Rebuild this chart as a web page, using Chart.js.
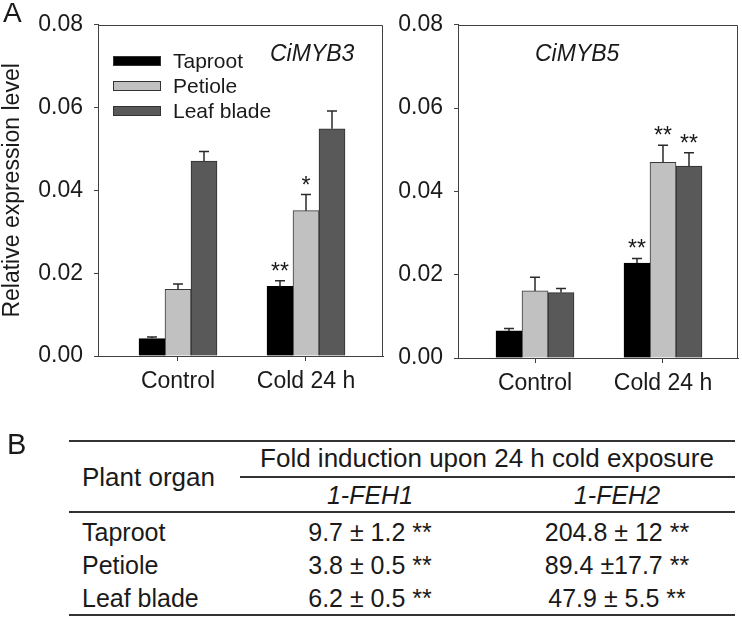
<!DOCTYPE html>
<html><head><meta charset="utf-8">
<script src="https://cdn.jsdelivr.net/npm/chart.js@4.4.0/dist/chart.umd.min.js"></script>
<style>
body{margin:0;width:742px;height:618px;position:relative;background:#fff;font-family:"Liberation Sans",Arial,sans-serif;color:#1a1a1a;overflow:hidden}
.t{position:absolute;white-space:nowrap;height:30px;line-height:30px}
.c{text-align:center;width:600px}
.ln{position:absolute;height:2px;background:#333}
.box{position:absolute;box-sizing:border-box;border:1px solid #333;width:48px;height:10px}
canvas{position:absolute}
</style></head><body>
<canvas id="c1" width="390" height="400" style="left:0;top:0"></canvas>
<canvas id="c2" width="352" height="400" style="left:390px;top:0"></canvas>
<div id="ov"></div>
<script>
// ---- data ----
const categories = ['Control', 'Cold 24 h'];
const seriesNames = ['Taproot', 'Petiole', 'Leaf blade'];
const yTickValues = [0, 0.02, 0.04, 0.06, 0.08];

const myb3Taproot = [0.0042, 0.0168];
const myb3Petiole = [0.0161, 0.0351];
const myb3Leaf    = [0.0471, 0.0549];
const myb3TaprootErr = [0.0004, 0.0014];
const myb3PetioleErr = [0.0013, 0.0039];
const myb3LeafErr    = [0.0023, 0.0043];
const myb3TaprootSig = ['', '**'];
const myb3PetioleSig = ['', '*'];
const myb3LeafSig    = ['', ''];

const myb5Taproot = [0.0065, 0.0228];
const myb5Petiole = [0.0161, 0.0470];
const myb5Leaf    = [0.0157, 0.0461];
const myb5TaprootErr = [0.0006, 0.0011];
const myb5PetioleErr = [0.0033, 0.0041];
const myb5LeafErr    = [0.0010, 0.0032];
const myb5TaprootSig = ['', '**'];
const myb5PetioleSig = ['', '**'];
const myb5LeafSig    = ['', '**'];

const tableOrgans = ['Taproot', 'Petiole', 'Leaf blade'];
const feh1Values = ['9.7 ± 1.2 **', '3.8 ± 0.5 **', '6.2 ± 0.5 **'];
const feh2Values = ['204.8 ± 12 **', '89.4 ±17.7 **', '47.9 ± 5.5 **'];

// ---- styles ----
const FAM = '"Liberation Sans", Arial, sans-serif';
const seriesFill = ['#000000', '#c1c1c1', '#595959'];
const seriesBorder = ['#000000', '#3a3a3a', '#2e2e2e'];
const AX = '#404040';

const errPlugin = {
  id: 'err',
  beforeDatasetsDraw(chart) {
    const {ctx, chartArea: a} = chart;
    ctx.save();
    ctx.strokeStyle = AX; ctx.lineWidth = 1;
    ctx.beginPath();
    const t = Math.round(a.top) + 0.5, r = Math.round(a.right) - 0.5;
    ctx.moveTo(a.left, t); ctx.lineTo(r, t); ctx.lineTo(r, a.bottom);
    ctx.stroke();
    ctx.restore();
  },
  afterDatasetsDraw(chart) {
    const ctx = chart.ctx, ys = chart.scales.y;
    chart.data.datasets.forEach((ds, d) => {
      const meta = chart.getDatasetMeta(d);
      meta.data.forEach((bar, i) => {
        const v = ds.data[i].y, e = ds.errors[i];
        const x = bar.x, y0 = bar.y, y1 = ys.getPixelForValue(v + e);
        ctx.save();
        ctx.strokeStyle = '#2a2a2a'; ctx.lineWidth = 1.5;
        ctx.beginPath();
        ctx.moveTo(x, y0); ctx.lineTo(x, y1);
        ctx.moveTo(x - 5, y1); ctx.lineTo(x + 5, y1);
        ctx.stroke();
        const s = ds.sig[i];
        if (s) {
          ctx.fillStyle = '#1a1a1a';
          ctx.font = '23px ' + FAM;
          ctx.textAlign = 'center';
          ctx.textBaseline = 'alphabetic';
          ctx.fillText(s, x, y1 - 2);
        }
        ctx.restore();
      });
    });
  }
};

function makeDatasets(vals, errs, sigs) {
  return vals.map((arr, k) => ({
    label: seriesNames[k],
    data: arr.map((v, i) => ({x: i, y: v})),
    errors: errs[k],
    sig: sigs[k],
    backgroundColor: seriesFill[k],
    borderColor: seriesBorder[k],
    borderWidth: 1,
    barThickness: 26
  }));
}

function makeChart(id, datasets, xmin, xmax, yWidth, pad, withTitle) {
  return new Chart(document.getElementById(id), {
    type: 'bar',
    data: {datasets},
    plugins: [errPlugin],
    options: {
      responsive: false, animation: false, devicePixelRatio: 1,
      layout: {padding: pad},
      plugins: {legend: {display: false}, tooltip: {enabled: false}, title: {display: false}},
      scales: {
        x: {
          type: 'linear', min: xmin, max: xmax, offset: false,
          afterBuildTicks: s => { s.ticks = categories.map((c, i) => ({value: i})); },
          afterFit: s => { s.height = 34; },
          ticks: {callback: v => categories[v], font: {size: 23, family: FAM}, color: '#1a1a1a', padding: 7, autoSkip: false, maxRotation: 0},
          grid: {drawOnChartArea: false, tickLength: 5, color: AX, offset: false},
          border: {color: AX}
        },
        y: {
          min: 0, max: 0.08,
          afterBuildTicks: s => { s.ticks = yTickValues.map(v => ({value: v})); },
          afterFit: s => { s.width = yWidth; },
          ticks: {callback: v => Number(v).toFixed(2), font: {size: 23, family: FAM}, color: '#1a1a1a', padding: 11},
          grid: {drawOnChartArea: false, tickLength: 4, color: AX},
          border: {color: AX},
          title: {display: withTitle, text: 'Relative expression level', color: '#1a1a1a',
                  font: {size: 23, family: FAM, lineHeight: 1.1}, padding: {top: 0, bottom: 0}}
        }
      }
    }
  });
}

makeChart('c1',
  makeDatasets([myb3Taproot, myb3Petiole, myb3Leaf], [myb3TaprootErr, myb3PetioleErr, myb3LeafErr], [myb3TaprootSig, myb3PetioleSig, myb3LeafSig]),
  -0.625, 1.6016, 98, {left: 0, right: 7, top: 22, bottom: 10}, true);
makeChart('c2',
  makeDatasets([myb5Taproot, myb5Petiole, myb5Leaf], [myb5TaprootErr, myb5PetioleErr, myb5LeafErr], [myb5TaprootSig, myb5PetioleSig, myb5LeafSig]),
  -0.6016, 1.586, 68, {left: 0, right: 4, top: 24, bottom: 8}, false);

// ---- overlay text: legend, gene names, panel letters, table ----
const ov = document.getElementById('ov');
function txt(s, left, cy, size, extra) {
  const d = document.createElement('div');
  d.className = 't' + (extra && extra.center ? ' c' : '');
  d.textContent = s;
  d.style.fontSize = size + 'px';
  d.style.top = (cy - 15) + 'px';
  d.style.left = (extra && extra.center ? left - 300 : left) + 'px';
  if (extra && extra.italic) d.style.fontStyle = 'italic';
  ov.appendChild(d);
}
function line(x1, x2, y) {
  const d = document.createElement('div');
  d.className = 'ln';
  d.style.left = x1 + 'px'; d.style.width = (x2 - x1) + 'px'; d.style.top = (y - 1) + 'px';
  ov.appendChild(d);
}
seriesNames.forEach((n, i) => {
  const b = document.createElement('div');
  b.className = 'box';
  b.style.left = '113px'; b.style.top = (56 + 25 * i) + 'px';
  b.style.background = seriesFill[i];
  ov.appendChild(b);
  txt(n, 173, 61 + 25 * i, 21);
});
txt('CiMYB3', 270, 53, 23, {italic: true});
txt('CiMYB5', 535, 53, 23, {italic: true});
txt('A', 3, 13, 28);
txt('B', 7, 444, 29);

line(69, 735, 441);
line(240, 735, 477);
line(69, 735, 512);
line(69, 735, 615);
txt('Plant organ', 82, 477, 26);
txt('Fold induction upon 24 h cold exposure', 487, 458, 26, {center: true});
txt('1-FEH1', 370, 495, 25, {center: true, italic: true});
txt('1-FEH2', 617, 495, 25, {center: true, italic: true});
const rowY = [532, 565, 598];
tableOrgans.forEach((o, i) => {
  txt(o, 82, rowY[i], 25);
  txt(feh1Values[i], 370, rowY[i], 25, {center: true});
  txt(feh2Values[i], 617, rowY[i], 25, {center: true});
});
</script>
</body></html>
